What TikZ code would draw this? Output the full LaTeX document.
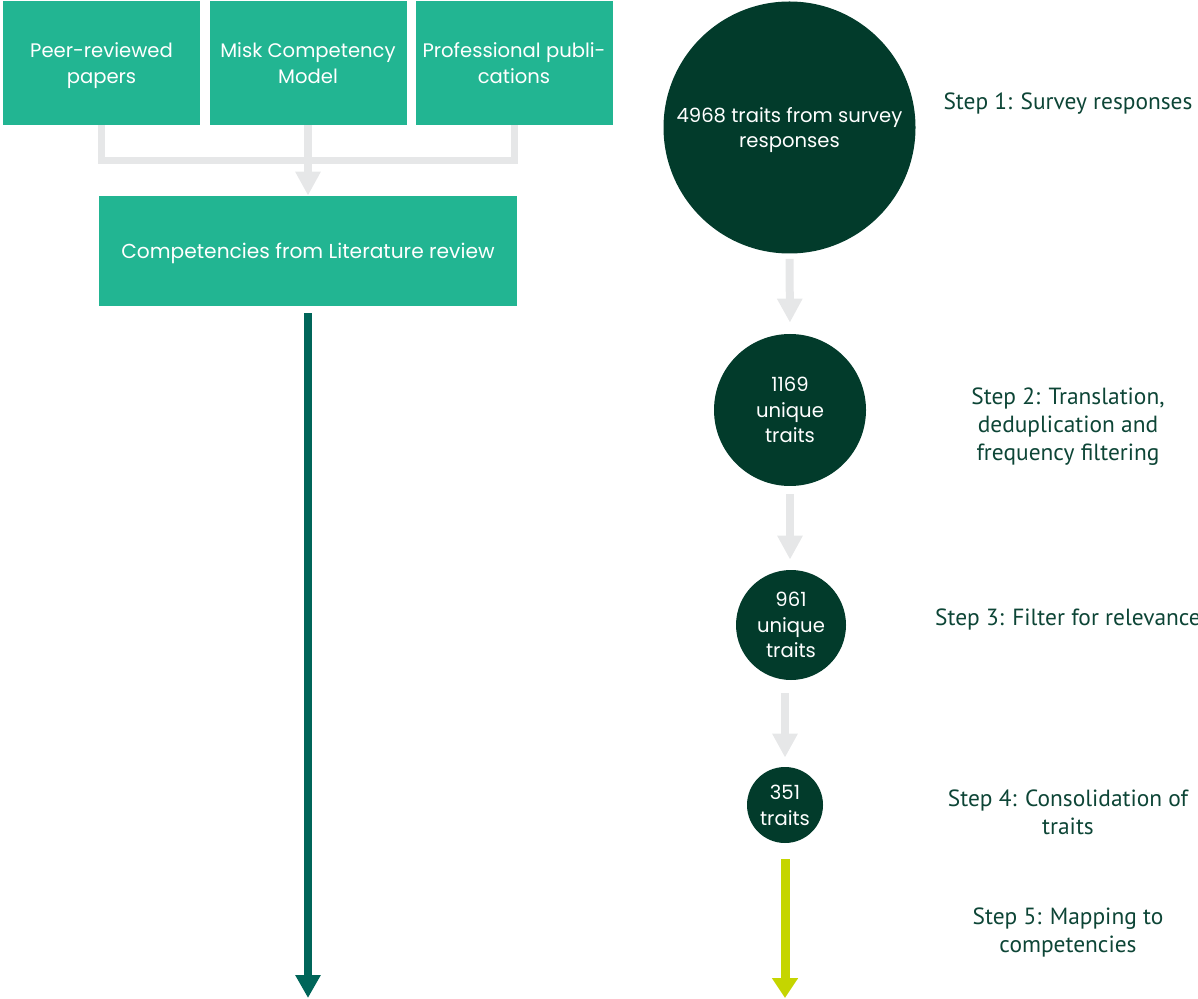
\documentclass[tikz,border=0pt]{standalone}
\usepackage{fontspec}
\setmainfont{Poppins}
\newfontfamily\stepfont{PT Sans}
\usetikzlibrary{arrows.meta}

\definecolor{boxgreen}{HTML}{22B592}
\definecolor{traitgreen}{HTML}{023B2B}
\definecolor{flowgrey}{HTML}{E6E7E8}
\definecolor{littealgreen}{HTML}{006559}
\definecolor{mapgreen}{HTML}{C5D500}
\definecolor{steptext}{HTML}{0D4536}

% text depth is fixed so that labels sit a little low, like the slides do
\tikzset{
  srcbox/.style={fill=boxgreen, text=white, inner sep=0pt, align=center,
    minimum width=98.5pt, minimum height=62pt, text depth=-1pt,
    font=\fontsize{9.8}{13}\selectfont},
  trait/.style={circle, fill=traitgreen, text=white, inner sep=0pt, align=center,
    text depth=-0.5pt, font=\fontsize{9.8}{12.8}\selectfont},
  steplabel/.style={text=steptext, align=center, text depth=0pt,
    font=\stepfont\fontsize{11.7}{14}\selectfont},
  flow/.style={draw=flowgrey, line width=4pt, -{Triangle[width=12pt,length=12pt]}},
}

\begin{document}
\begin{tikzpicture}[x=0.5pt,y=-0.5pt]
  \useasboundingbox (0,0) rectangle (1198,999);

  % sources of the literature review
  \node[srcbox] (peer) at (101.5,63) {Peer-reviewed\\papers};
  \node[srcbox] (misk) at (308,63) {Misk Competency\\Model};
  \node[srcbox] (prof) at (514,63) {Professional publi-\\cations};
  \node[srcbox, minimum width=209pt, minimum height=55pt, text depth=-1.5pt,
    font=\fontsize{10.1}{13}\selectfont] (lit) at (308,251)
    {Competencies from Literature review};
  \coordinate (litend) at (308,998);

  \draw[draw=flowgrey, line width=3.5pt, line join=miter]
    (peer.south) -- ++(0,35) -| (prof.south);
  \draw[flow] (misk.south) -- (lit.north);
  \draw[draw=littealgreen, line width=4pt, -{Triangle[width=12pt,length=11.5pt]},
    shorten <=3.5pt] (lit.south) -- (litend);

  % trait funnel
  \node[trait, minimum size=126pt, text depth=-2.5pt] (c1) at (789.5,127.5)
    {4968 traits from survey\\responses};
  \node[trait, minimum size=76pt, text depth=-2pt] (c2) at (790,410)
    {1169\\unique\\traits};
  \node[trait, minimum size=55pt] (c3) at (791,625) {961\\unique\\traits};
  \node[trait, minimum size=38pt] (c4) at (785,805) {351\\traits};
  \coordinate (mapend) at (785,998);

  \draw[flow, shorten <=2.5pt, shorten >=5.5pt] (c1.south) -- (c2.north);
  \draw[flow, shorten <=4pt, shorten >=5pt] (c2.south) -- (c2.south |- c3.north);
  \draw[flow, shorten <=6.5pt, shorten >=4.5pt] (c4.north |- c3.south) -- (c4.north);
  \draw[draw=mapgreen, line width=4.5pt, -{Triangle[width=12.5pt,length=10pt]},
    shorten <=8pt] (c4.south) -- (mapend);

  % step labels
  \node[steplabel] (s1) at (1068,101) {Step 1: Survey responses};
  \node[steplabel] (s2) at (1068,424) {Step 2: Translation,\\deduplication and\\frequency filtering};
  \node[steplabel] (s3) at (1068,617) {Step 3: Filter for relevance};
  \node[steplabel] (s4) at (1068,812) {Step 4: Consolidation of\\traits};
  \node[steplabel] (s5) at (1068,930) {Step 5: Mapping to\\competencies};
\end{tikzpicture}
\end{document}
